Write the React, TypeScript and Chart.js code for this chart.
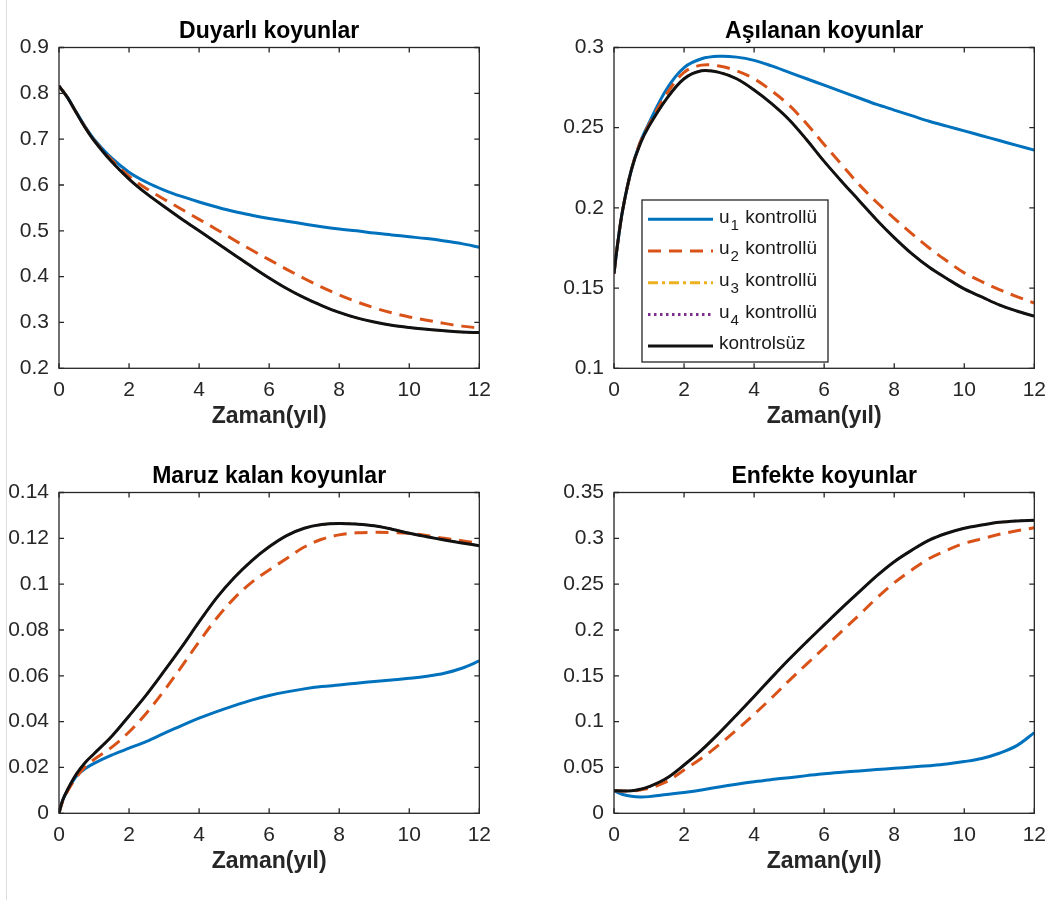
import { useEffect, useRef } from "react";
import { Chart, registerables } from "chart.js";

Chart.register(...registerables);

// Time axis (years) shared by every panel
const TIME = [0, 0.1, 0.25, 0.5, 0.75, 1, 1.5, 2, 2.5, 3, 3.5, 4, 4.5, 5, 5.5, 6, 6.5, 7, 7.5, 8, 8.5, 9, 9.5, 10, 10.5, 11, 11.5, 12];
const X_TICKS = [0, 2, 4, 6, 8, 10, 12];

// Duyarlı koyunlar
const S_TICKS = [0.2, 0.3, 0.4, 0.5, 0.6, 0.7, 0.8, 0.9];
const S_U1 = [0.816, 0.806, 0.79, 0.758, 0.727, 0.7, 0.659, 0.628, 0.606, 0.589, 0.575, 0.563, 0.552, 0.542, 0.534, 0.527, 0.521, 0.515, 0.509, 0.504, 0.5, 0.495, 0.491, 0.487, 0.483, 0.478, 0.472, 0.464];
const S_U2 = [0.816, 0.806, 0.79, 0.757, 0.726, 0.698, 0.655, 0.619, 0.592, 0.569, 0.547, 0.525, 0.503, 0.48, 0.458, 0.437, 0.416, 0.396, 0.377, 0.36, 0.345, 0.332, 0.321, 0.312, 0.305, 0.298, 0.292, 0.288];
const S_NONE = [0.816, 0.806, 0.79, 0.757, 0.725, 0.697, 0.651, 0.613, 0.581, 0.553, 0.526, 0.5, 0.474, 0.448, 0.422, 0.397, 0.374, 0.354, 0.337, 0.322, 0.31, 0.301, 0.294, 0.289, 0.285, 0.282, 0.279, 0.278];

// Aşılanan koyunlar
const V_TICKS = [0.1, 0.15, 0.2, 0.25, 0.3];
const V_U1 = [0.159, 0.177, 0.199, 0.224, 0.241, 0.253, 0.274, 0.2875, 0.293, 0.2945, 0.294, 0.292, 0.2885, 0.2845, 0.2805, 0.2765, 0.2725, 0.2685, 0.2645, 0.261, 0.2575, 0.254, 0.251, 0.248, 0.245, 0.242, 0.239, 0.236];
const V_U2 = [0.159, 0.177, 0.199, 0.224, 0.241, 0.252, 0.271, 0.2845, 0.289, 0.2885, 0.2855, 0.2805, 0.273, 0.264, 0.2525, 0.2395, 0.227, 0.2145, 0.2035, 0.1935, 0.184, 0.175, 0.167, 0.1595, 0.154, 0.149, 0.1447, 0.1407];
const V_NONE = [0.159, 0.177, 0.199, 0.224, 0.24, 0.251, 0.268, 0.2805, 0.2855, 0.2845, 0.2805, 0.2735, 0.265, 0.255, 0.2425, 0.229, 0.2165, 0.2045, 0.1925, 0.1815, 0.1715, 0.163, 0.156, 0.1495, 0.1445, 0.1395, 0.1357, 0.1325];

// Maruz kalan koyunlar
const E_TICKS = [0, 0.02, 0.04, 0.06, 0.08, 0.1, 0.12, 0.14];
const E_U1 = [0, 0.0055, 0.0102, 0.0163, 0.0195, 0.0218, 0.0254, 0.0284, 0.0314, 0.0349, 0.0383, 0.0415, 0.0444, 0.047, 0.0494, 0.0514, 0.053, 0.0543, 0.0553, 0.056, 0.0568, 0.0575, 0.0582, 0.0589, 0.0598, 0.0611, 0.0633, 0.0665];
const E_U2 = [0, 0.005, 0.0098, 0.0158, 0.0203, 0.0235, 0.0288, 0.0355, 0.0438, 0.0535, 0.064, 0.0749, 0.0851, 0.0938, 0.1008, 0.1062, 0.1112, 0.1162, 0.1196, 0.1215, 0.1224, 0.1226, 0.1225, 0.1222, 0.1212, 0.12, 0.119, 0.1178];
const E_NONE = [0, 0.0055, 0.0105, 0.0172, 0.0222, 0.026, 0.0335, 0.0425, 0.0518, 0.062, 0.0725, 0.0835, 0.094, 0.1028, 0.1102, 0.1163, 0.1212, 0.1244, 0.126, 0.1265, 0.1262, 0.1255, 0.124, 0.1222, 0.1207, 0.1193, 0.118, 0.1168];

// Enfekte koyunlar
const I_TICKS = [0, 0.05, 0.1, 0.15, 0.2, 0.25, 0.3, 0.35];
const I_U1 = [0.0247, 0.0228, 0.0205, 0.0185, 0.0178, 0.0182, 0.0205, 0.0228, 0.0255, 0.0288, 0.0318, 0.0345, 0.0368, 0.0389, 0.0411, 0.0432, 0.0448, 0.0462, 0.0477, 0.0491, 0.0505, 0.052, 0.0538, 0.0564, 0.0598, 0.0655, 0.0738, 0.088];
const I_U2 = [0.0247, 0.0245, 0.0243, 0.0243, 0.0255, 0.0273, 0.0345, 0.0473, 0.06, 0.0748, 0.0909, 0.108, 0.126, 0.1448, 0.1628, 0.1805, 0.1985, 0.2164, 0.2348, 0.2515, 0.2655, 0.278, 0.287, 0.2945, 0.2995, 0.3044, 0.3082, 0.3116];
const I_NONE = [0.0247, 0.0245, 0.0244, 0.0245, 0.0262, 0.029, 0.0382, 0.0527, 0.069, 0.0875, 0.1073, 0.1275, 0.148, 0.168, 0.187, 0.2055, 0.2238, 0.2415, 0.259, 0.2745, 0.287, 0.298, 0.3055, 0.311, 0.3145, 0.3175, 0.319, 0.3196];

const SERIES_LABELS = ["u_1 kontrollü", "u_2 kontrollü", "u_3 kontrollü", "u_4 kontrollü", "kontrolsüz"];
const SERIES_COLORS = ["#0072BD", "#D95319", "#EDB120", "#7E2F8E", "#111111"];
const SERIES_DASH = [[], [13, 8], [10, 4, 3, 4], [2.5, 3.5], []];
const SERIES_WIDTH = [3, 3, 2.2, 2.2, 3];

const FONT = "'Liberation Sans', Arial, Helvetica, sans-serif";
const AXIS_COLOR = "#262626";
const TICK_LEN = 5;

const fmt = (v: number | string) => String(Number(Number(v).toFixed(4)));

// Box around the axes with inward tick marks on all four sides
const axesFrame = {
  id: "axesFrame",
  afterDatasetsDraw(chart: any) {
    const { ctx, chartArea: a, scales } = chart;
    ctx.save();
    ctx.strokeStyle = AXIS_COLOR;
    ctx.lineWidth = 1.3;
    ctx.setLineDash([]);
    ctx.strokeRect(a.left, a.top, a.right - a.left, a.bottom - a.top);
    ctx.beginPath();
    for (const t of scales.x.ticks) {
      const px = scales.x.getPixelForValue(t.value);
      ctx.moveTo(px, a.bottom);
      ctx.lineTo(px, a.bottom - TICK_LEN);
      ctx.moveTo(px, a.top);
      ctx.lineTo(px, a.top + TICK_LEN);
    }
    for (const t of scales.y.ticks) {
      const py = scales.y.getPixelForValue(t.value);
      ctx.moveTo(a.left, py);
      ctx.lineTo(a.left + TICK_LEN, py);
      ctx.moveTo(a.right, py);
      ctx.lineTo(a.right - TICK_LEN, py);
    }
    ctx.stroke();
    ctx.restore();
  },
};

// Draws "u_1 kontrollü" with the character after '_' as a subscript
function drawTexLabel(ctx: CanvasRenderingContext2D, text: string, x: number, y: number, size: number) {
  const parts = text.split(/(_.)/).filter((p) => p.length > 0);
  let cx = x;
  for (const p of parts) {
    if (p.startsWith("_")) {
      const s = p.slice(1);
      ctx.font = `${size * 0.8}px ${FONT}`;
      ctx.fillText(s, cx + 1, y + 7);
      cx += ctx.measureText(s).width + 2;
    } else {
      ctx.font = `${size}px ${FONT}`;
      ctx.fillText(p, cx, y);
      cx += ctx.measureText(p).width;
    }
  }
}

// Boxed legend inside the axes, built from the chart's datasets
const texLegend = {
  id: "texLegend",
  afterDraw(chart: any, _args: any, opts: any) {
    if (!opts || !opts.show) return;
    const { ctx, chartArea: a } = chart;
    const x0 = a.left + opts.dx;
    const y0 = a.top + opts.dy;
    const w = opts.width;
    const h = opts.height;
    ctx.save();
    ctx.fillStyle = "#ffffff";
    ctx.fillRect(x0, y0, w, h);
    ctx.strokeStyle = AXIS_COLOR;
    ctx.lineWidth = 1.3;
    ctx.setLineDash([]);
    ctx.strokeRect(x0, y0, w, h);
    chart.data.datasets.forEach((ds: any, i: number) => {
      const ry = y0 + opts.firstRow + i * opts.rowGap;
      ctx.beginPath();
      ctx.strokeStyle = ds.borderColor;
      ctx.lineWidth = 3;
      ctx.setLineDash(ds.borderDash || []);
      ctx.moveTo(x0 + 6, ry);
      ctx.lineTo(x0 + 71, ry);
      ctx.stroke();
      ctx.setLineDash([]);
      ctx.fillStyle = "#1a1a1a";
      ctx.textBaseline = "alphabetic";
      ctx.textAlign = "left";
      drawTexLabel(ctx, ds.label, x0 + 77, ry + 3.3, 19);
    });
    ctx.restore();
  },
};

type PanelProps = {
  left: number;
  top: number;
  title: string;
  yTicks: number[];
  u1: number[];
  u2: number[];
  none: number[];
  legend: boolean;
};

function Panel({ left, top, title, yTicks, u1, u2, none, legend }: PanelProps) {
  const ref = useRef<HTMLCanvasElement>(null);

  useEffect(() => {
    // u3 and u4 follow the uncontrolled trajectory and lie beneath it
    const values = [u1, u2, none, none, none];
    const datasets = SERIES_LABELS.map((label, i) => ({
      label,
      data: TIME.map((t, k) => ({ x: t, y: values[i][k] })),
      borderColor: SERIES_COLORS[i],
      backgroundColor: SERIES_COLORS[i],
      borderWidth: SERIES_WIDTH[i],
      borderDash: SERIES_DASH[i],
      borderCapStyle: "butt" as const,
      borderJoinStyle: "round" as const,
      pointRadius: 0,
      fill: false,
      tension: 0.35,
      order: SERIES_LABELS.length - 1 - i,
    }));

    const chart = new Chart(ref.current as HTMLCanvasElement, {
      type: "line",
      data: { datasets },
      plugins: [axesFrame, texLegend],
      options: {
        animation: false,
        responsive: false,
        devicePixelRatio: 1,
        layout: { padding: { left: 0, top: 0, right: 19, bottom: 0 } },
        scales: {
          x: {
            type: "linear",
            min: 0,
            max: 12,
            afterBuildTicks: (s: any) => {
              s.ticks = X_TICKS.map((v) => ({ value: v }));
            },
            afterFit: (s: any) => {
              s.height = 71.7;
            },
            grid: { display: false, drawTicks: false },
            border: { display: false },
            ticks: {
              padding: 9,
              color: AXIS_COLOR,
              font: { family: FONT, size: 21 },
              maxRotation: 0,
              autoSkip: false,
              callback: (v: any) => fmt(v),
            },
            title: {
              display: true,
              text: "Zaman(yıl)",
              color: AXIS_COLOR,
              font: { family: FONT, size: 23, weight: "bold" },
              padding: { top: 0, bottom: 9.5 },
            },
          },
          y: {
            type: "linear",
            min: yTicks[0],
            max: yTicks[yTicks.length - 1],
            afterBuildTicks: (s: any) => {
              s.ticks = yTicks.map((v) => ({ value: v }));
            },
            afterFit: (s: any) => {
              s.width = 59;
            },
            grid: { display: false, drawTicks: false },
            border: { display: false },
            ticks: {
              padding: 10,
              color: AXIS_COLOR,
              font: { family: FONT, size: 21 },
              autoSkip: false,
              callback: (v: any) => fmt(v),
            },
          },
        },
        plugins: {
          legend: { display: false },
          tooltip: { enabled: false },
          title: {
            display: true,
            text: title,
            fullSize: false,
            color: "#000000",
            font: { family: FONT, size: 23, weight: "bold" },
            padding: { top: 17.9, bottom: 2 },
          },
          texLegend: {
            show: legend,
            dx: 28,
            dy: 152.5,
            width: 186,
            height: 162,
            firstRow: 19.3,
            rowGap: 31.7,
          },
        } as any,
      },
    });
    return () => chart.destroy();
  }, []);

  return (
    <canvas
      ref={ref}
      width={500}
      height={440}
      style={{ position: "absolute", left, top, width: 500, height: 440 }}
    />
  );
}

export default function App() {
  return (
    <div
      style={{
        position: "absolute",
        left: 0,
        top: 0,
        width: 1060,
        height: 908,
        background: "#ffffff",
        overflow: "hidden",
      }}
    >
      <div style={{ position: "absolute", left: 6, top: 0, width: 1, height: 900, background: "#dcdcdc" }} />
      <Panel left={0} top={0} title="Duyarlı koyunlar" yTicks={S_TICKS} u1={S_U1} u2={S_U2} none={S_NONE} legend={false} />
      <Panel left={555} top={0} title="Aşılanan koyunlar" yTicks={V_TICKS} u1={V_U1} u2={V_U2} none={V_NONE} legend={true} />
      <Panel left={0} top={445} title="Maruz kalan koyunlar" yTicks={E_TICKS} u1={E_U1} u2={E_U2} none={E_NONE} legend={false} />
      <Panel left={555} top={445} title="Enfekte koyunlar" yTicks={I_TICKS} u1={I_U1} u2={I_U2} none={I_NONE} legend={false} />
    </div>
  );
}
